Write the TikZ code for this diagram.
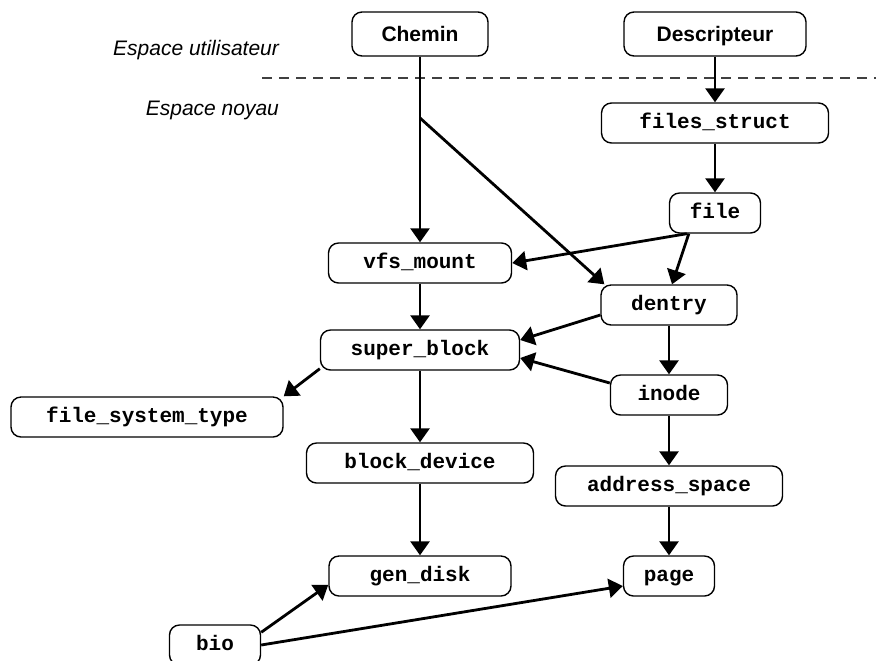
\documentclass[tikz,border=0pt]{standalone}
\usepackage{fontspec}
\setsansfont{Liberation Sans}
\setmonofont{Liberation Mono}
\usetikzlibrary{arrows.meta,positioning,calc}

\begin{document}
\begin{tikzpicture}[x=0.5pt, y=-0.5pt,
  box/.style={draw, rounded corners=5pt, line width=0.7pt,
    minimum height=20pt, inner sep=0pt, text height=7.5pt, text depth=2.5pt,
    font=\fontsize{10.5}{12}\selectfont\ttfamily\bfseries},
  ubox/.style={box, minimum height=22pt, text depth=0.5pt,
    font=\fontsize{10.5}{12}\selectfont\sffamily\bfseries},
  arr/.style={-{Triangle[length=7pt,width=9.5pt]}, line width=1.4pt},
  zone/.style={anchor=east, font=\fontsize{10.5}{12}\selectfont\sffamily\itshape}
]
\useasboundingbox (0,0) rectangle (876,660);
% user space / kernel space
\node[zone] (user) at (286,50) {Espace utilisateur};
\node[zone] (kern) at (286,110) {Espace noyau};
\coordinate (sepl) at (262,78);
\coordinate (sepr) at (876,78);
\draw[dashed, dash pattern=on 5pt off 3.5pt, line width=0.6pt, black!75] (sepl) -- (sepr);

\node[ubox, minimum width=68pt] (chemin) at (420,34) {Chemin};
\node[ubox, minimum width=91pt] (desc) at (715,34) {Descripteur};

\node[box, minimum width=113.5pt, minimum height=20pt] (fstruct) at (715,123) {files\_struct};
\node[box, minimum width=45.5pt] (file) at (715,213) {file};
\node[box, minimum width=91.5pt] (vfsmnt) at (420,263) {vfs\_mount};
\node[box, minimum width=68pt] (dentry) at (669,305) {dentry};
\node[box, minimum width=99.5pt] (sblock) at (420,350) {super\_block};
\node[box, minimum width=136pt] (fstype) at (147,417) {file\_system\_type};
\node[box, minimum width=58.5pt] (inode) at (669,395) {inode};
\node[box, minimum width=113.5pt] (bdev) at (420,463) {block\_device};
\node[box, minimum width=113.5pt] (aspace) at (669,486) {address\_space};
\node[box, minimum width=91pt] (gdisk) at (420,576) {gen\_disk};
\node[box, minimum width=45.5pt] (page) at (669,576) {page};
\node[box, minimum width=45.5pt] (bio) at (215,645) {bio};

\coordinate (split) at (420,118);

\draw[arr] (chemin) -- (vfsmnt);
\draw[line width=1.4pt] (chemin) -- (split);
\draw[arr] (split) -- ($(dentry.north west)+(2pt,0)$);
\draw[arr] (desc) -- (fstruct);
\draw[arr] (fstruct) -- (file);
\draw[arr] ($(file.south west)+(9pt,0)$) -- (vfsmnt.east);
\draw[arr] ($(file.south west)+(10pt,0)$) -- ($(dentry.north)+(1.5pt,0)$);
\draw[arr] (vfsmnt) -- (sblock);
\draw[arr] ($(dentry.west)+(0,-5pt)$) -- ($(sblock.east)+(0,5pt)$);
\draw[arr] (dentry) -- (inode);
\draw[arr] ($(inode.west)+(0,6pt)$) -- ($(sblock.east)+(0,-4pt)$);
\draw[arr] ($(sblock.south west)+(0,1pt)$) -- (fstype.north east);
\draw[arr] (sblock) -- (bdev);
\draw[arr] (inode) -- (aspace);
\draw[arr] (bdev) -- (gdisk);
\draw[arr] (aspace) -- (page);
\draw[arr] ($(bio.north east)+(0,-4pt)$) -- ($(gdisk.south west)+(0,6pt)$);
\draw[arr] ($(bio.east)+(0,0)$) -- ($(page.west)+(0,-5pt)$);
\end{tikzpicture}
\end{document}
